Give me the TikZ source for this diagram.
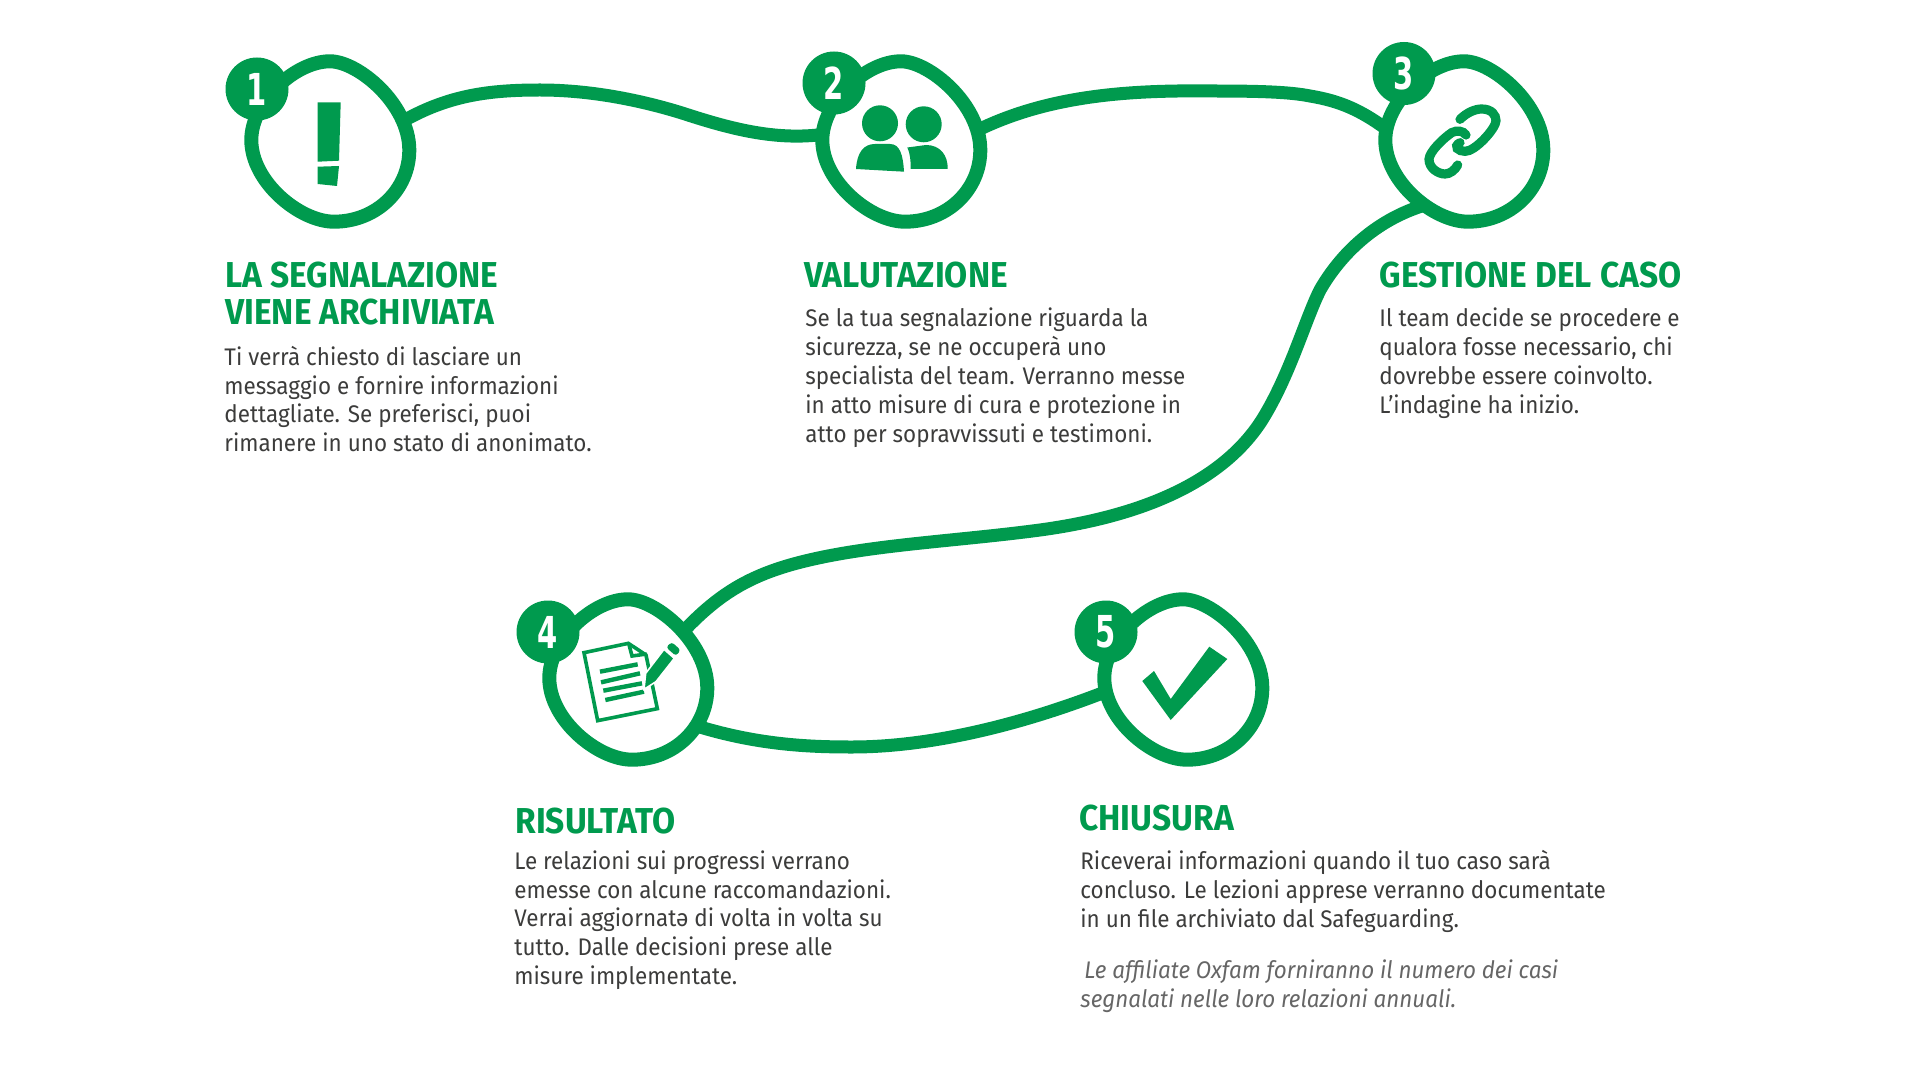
\documentclass[tikz,border=0pt]{standalone}
\usepackage{fontspec}
\setmainfont{Fira Sans}
\newfontfamily\headfont[FakeStretch=0.93]{Fira Sans}
\newfontfamily\copyfont[FakeStretch=0.935]{Fira Sans}
\newfontfamily\digitfont[FakeStretch=0.66]{DejaVu Sans}
\definecolor{oxgreen}{HTML}{009A4E}
\definecolor{copygrey}{HTML}{3C3C3B}
\definecolor{notegrey}{HTML}{666666}
\tikzset{
    heading/.style={anchor=base west,inner sep=0,align=left,text=oxgreen,font=\headfont\bfseries\fontsize{18}{18.5}\selectfont},
    copytext/.style={anchor=base west,inner sep=0,align=left,text=copygrey,font=\copyfont\fontsize{12}{14.4}\selectfont},
    notetext/.style={copytext,text=notegrey,font=\copyfont\itshape\fontsize{12}{14.6}\selectfont},
    numspot/.style={shape=circle,fill=oxgreen,text=white,inner sep=0,minimum size=31.5pt,font=\digitfont\bfseries\fontsize{22}{22}\selectfont},
    link/.style={draw=oxgreen,line width=6.5pt},
    blob/.pic={
        \path[draw=oxgreen,fill=white,line width=7pt]
            (0,-80.7) .. controls (28,-80.7) and (79.3,-38) .. (79.3,8)
            .. controls (79.3,48) and (46,79.7) .. (4,79.7)
            .. controls (-30,79.7) and (-78.7,40) .. (-78.7,-2)
            .. controls (-78.7,-40) and (-35,-80.7) .. cycle;
    }
}

\begin{document}
\begin{tikzpicture}[x=0.5pt,y=-0.5pt]
    \useasboundingbox (0,0) rectangle (1920,1080);

    \coordinate (J1) at (405,120);
    \coordinate (J2) at (818,135);
    \coordinate (K2) at (978,130);
    \coordinate (K3) at (1385,128);
    \coordinate (L3) at (1425,205);
    \coordinate (L4) at (680,635);
    \coordinate (M4) at (700,727);
    \coordinate (M5) at (1105,692);

    \path[link] (J1) .. controls (450,95) and (490,90) .. (540,90)
        .. controls (590,90) and (640,100) .. (682,113)
        .. controls (725,127) and (770,140) .. (J2);
    \path[link] (K2) .. controls (1050,95) and (1130,90) .. (1212,91)
        .. controls (1260,91) and (1290,92) .. (1310,96)
        .. controls (1340,101) and (1360,110) .. (K3);
    \path[link] (L3) .. controls (1375,220) and (1340,255) .. (1320,290)
        .. controls (1305,320) and (1290,375) .. (1262,420)
        .. controls (1225,478) and (1150,515) .. (1040,530)
        .. controls (950,542) and (860,545) .. (790,565)
        .. controls (745,578) and (715,597) .. (L4);
    \path[link] (M4) .. controls (760,745) and (810,747) .. (852,747)
        .. controls (930,747) and (1020,725) .. (M5);

    \pic at (330,142) {blob};
    \pic at (901,142) {blob};
    \pic at (1464,142) {blob};
    \pic at (628,680) {blob};
    \pic at (1183,680) {blob};

    \node[numspot] (N1) at (257,89) {1};
    \node[numspot] (N2) at (834,83) {2};
    \node[numspot] (N3) at (1404,73.5) {3};
    \node[numspot] (N4) at (548,632) {4};
    \node[numspot] (N5) at (1106,632) {5};

    % exclamation mark
    \fill[oxgreen] (317.7,102.3) -- (340.7,102.3) -- (339,160.7) -- (317.7,161.7) -- cycle;
    \fill[oxgreen] (317.7,166.7) -- (339,166) -- (337,186) -- (317.7,184) -- cycle;

    % two people
    \fill[oxgreen] (880,123.3) circle (18);
    \fill[oxgreen] (923.7,124.3) circle (18);
    \fill[oxgreen] (856,169) .. controls (857,152) and (864,144) .. (875,144) -- (890,144)
        .. controls (900,144) and (903,155) .. (904,171.7) -- cycle;
    \fill[oxgreen] (907.3,147.5) -- (926,145) .. controls (940,145) and (948,155) .. (947.7,169)
        -- (910.7,169) .. controls (910.7,160) and (910,153) .. cycle;

    % chain
    \begin{scope}[shift={(1410,90)},scale=1/3,draw=oxgreen,line width=4.6pt,line cap=round]
        \draw (150,88) .. controls (170,68) and (195,57) .. (215,57)
            .. controls (245,57) and (258,75) .. (258,92)
            .. controls (258,115) and (195,185) .. (165,184)
            .. controls (145,184) and (128,170) .. (150,158);
        \draw (168,135) .. controls (160,122) and (140,120) .. (125,128)
            .. controls (100,145) and (58,185) .. (57,208)
            .. controls (57,235) and (85,252) .. (105,252)
            .. controls (120,252) and (135,240) .. (143,225);
    \end{scope}

    % sheet and pencil
    \begin{scope}[shift={(570,630)},scale=1/3,draw=oxgreen,line width=1.8pt]
        \draw (42,68) -- (175,40) -- (228,75) -- (262,236) -- (83,272) -- cycle;
        \draw (176,40) -- (186,78) -- (230,72);
        \draw[line width=2.2pt] (90,125) -- (203,103);
        \draw[line width=2.2pt] (93,157) -- (210,130);
        \draw[line width=2.2pt] (100,182) -- (216,160);
        \draw[line width=2.2pt] (106,210) -- (222,185);
        \draw[white,fill=oxgreen,line width=0.8pt] (227,130) -- (282,58) -- (313,85) -- (258,155) -- (222,178) -- cycle;
        \fill[oxgreen,rounded corners=1.5pt] (288,52) -- (305,36) -- (332,60) -- (318,78) -- cycle;
    \end{scope}

    % check mark
    \fill[oxgreen] (1142.3,681) -- (1154,671) -- (1170.7,699) -- (1209.3,646.7) -- (1227.3,659) -- (1170.7,720) -- cycle;

    \node[heading] (H1) at (225,325) {LA SEGNALAZIONE\\VIENE ARCHIVIATA};
    \node[heading] (H2) at (804,288) {VALUTAZIONE};
    \node[heading] (H3) at (1379,288) {GESTIONE DEL CASO};
    \node[heading] (H4) at (515,833) {RISULTATO};
    \node[heading] (H5) at (1079,830.5) {CHIUSURA};

    \node[copytext] (T1) at (224,451.7) {Ti verrà chiesto di lasciare un\\messaggio e fornire informazioni\\dettagliate. Se preferisci, puoi\\rimanere in uno stato di anonimato.};
    \node[copytext] (T2) at (805,442) {Se la tua segnalazione riguarda la\\sicurezza, se ne occuperà uno\\specialista del team. Verranno messe\\in atto misure di cura e protezione in\\atto per sopravvissuti e testimoni.};
    \node[copytext] (T3) at (1379,413) {Il team decide se procedere e\\qualora fosse necessario, chi\\dovrebbe essere coinvolto.\\L’indagine ha inizio.};
    \node[copytext] (T4) at (514,984.5) {Le relazioni sui progressi verrano\\emesse con alcune raccomandazioni.\\Verrai aggiornatə di volta in volta su\\tutto. Dalle decisioni prese alle\\misure implementate.};
    \node[copytext] (T5) at (1080,927) {Riceverai informazioni quando il tuo caso sarà\\concluso. Le lezioni apprese verranno documentate\\in un file archiviato dal Safeguarding.};
    \node[notetext] (T6) at (1080,1007.5) {\hspace*{2pt}Le affiliate Oxfam forniranno il numero dei casi\\segnalati nelle loro relazioni annuali.};
\end{tikzpicture}
\end{document}
